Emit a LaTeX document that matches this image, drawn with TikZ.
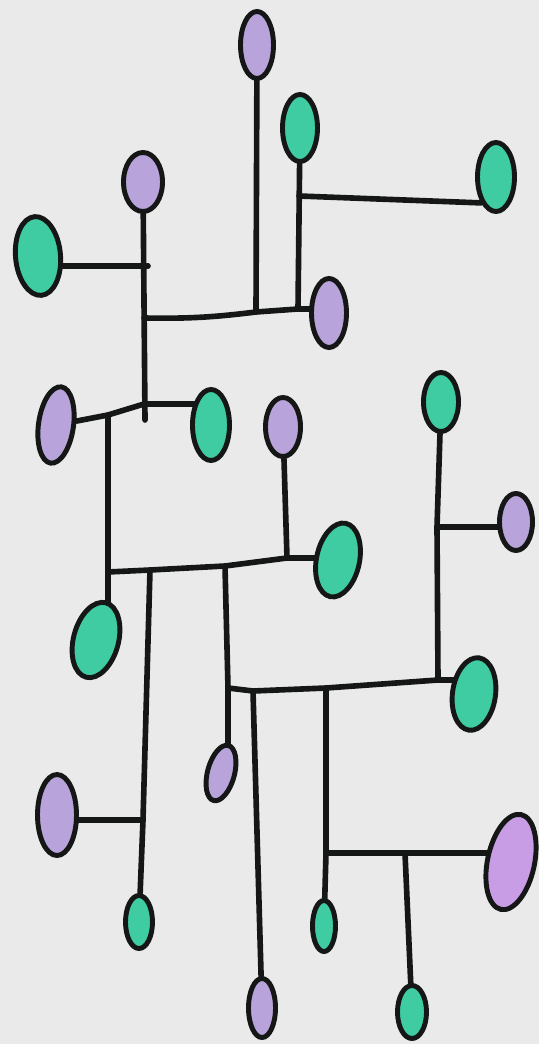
\documentclass[tikz,border=0pt]{standalone}
\usetikzlibrary{shapes.geometric}
\definecolor{paper}{HTML}{EAEAEA}
\definecolor{ink}{HTML}{141715}
\definecolor{mint}{HTML}{3FCCA3}
\definecolor{lilac}{HTML}{B8A4DA}
\definecolor{orchid}{HTML}{C99CE6}
\pgfdeclarelayer{paperlayer}\pgfdeclarelayer{wirelayer}
\pgfsetlayers{paperlayer,wirelayer,main}
\tikzset{wire/.style={draw=ink,line width=4.8pt,line cap=round,line join=round},
  bead/.style={ellipse,draw=ink,line width=4.2pt,inner sep=0pt},
  gbead/.style={bead,fill=mint},
  pbead/.style={bead,fill=lilac},
  egg/.style 2 args={minimum width={(#1-5)*0.03cm},minimum height={(#2-5)*0.03cm}}}

\begin{document}
\begin{tikzpicture}[x=0.03cm,y=-0.03cm]
\begin{pgfonlayer}{paperlayer}\fill[paper](0,0)rectangle(539,1044);\end{pgfonlayer}
\useasboundingbox(0,0)rectangle(539,1044);
% top cluster
\node[pbead,egg={38}{72}](P1)at(257,45){};\node[gbead,egg={40}{72}](G1)at(300,128){};
\node[gbead,egg={42}{74}](G2)at(496,177){};\node[pbead,egg={44}{64}](P2)at(143,182){};
\node[gbead,egg={50}{84},rotate=5](G3)at(38,256){};\node[pbead,egg={40}{74}](P3)at(329,313){};
% middle cluster
\node[pbead,egg={40}{82},rotate=-8](P4)at(56,425){};\node[gbead,egg={42}{76}](G4)at(211,425){};
\node[pbead,egg={40}{64}](P5)at(283,427){};\node[gbead,egg={40}{64}](G8)at(441,402){};
\node[pbead,egg={38}{62}](P6)at(516,522){};\node[gbead,egg={48}{80},rotate=-12](G6)at(338,560){};
\node[gbead,egg={50}{82},rotate=-15](G5)at(96,640){};\node[gbead,egg={48}{78},rotate=-8](G9)at(474,694){};
% bottom cluster
\node[pbead,egg={32}{62},rotate=-15](P7)at(221,773){};\node[pbead,egg={44}{86}](P8)at(57,815){};
\node[pbead,fill=orchid,egg={52}{102},rotate=-12](P9)at(511,862){};\node[gbead,egg={32}{58}](G7)at(139,922){};
\node[gbead,egg={28}{56}](G10)at(324,926){};\node[pbead,egg={32}{64}](P10)at(262,1008){};
\node[gbead,egg={34}{58}](G11)at(412,1012){};
% junctions
\coordinate(j1)at(256,312);\coordinate(j2)at(298,309);\coordinate(a1)at(299,196);
\coordinate(b1)at(144,318);\coordinate(b2)at(144,404);\coordinate(j3)at(145,420);\coordinate(a2)at(148,266);
\coordinate(b3)at(108,415);\coordinate(c1)at(108,572);\coordinate(c2)at(150,570);\coordinate(c3)at(225,566);
\coordinate(c4)at(287,558);\coordinate(c5)at(143,820);\coordinate(d1)at(228,688);\coordinate(d2)at(253,691);
\coordinate(d3)at(326,688);\coordinate(d4)at(438,680);\coordinate(e1)at(437,527);\coordinate(f1)at(326,853);
\coordinate(f2)at(405,853);
\begin{pgfonlayer}{wirelayer}
\draw[wire](P1)--(j1);\draw[wire](G1)--(j2);\draw[wire](a1)--(G2.240);
\draw[wire](P2)--(j3);\draw[wire](a2-|G3)--(a2);
\draw[wire](b1)to[bend right=4](j1)--(j2)--(j2-|P3);
\draw[wire](P4)--(b3)--(b2)--(b2-|G4);\draw[wire](b3)--(c1)--(c1|-G5);
\draw[wire](c1)--(c2)--(c3)--(c4)--(c4-|G6);\draw[wire](P5)--(c4);
\draw[wire](c2)--(c5)--(G7);\draw[wire](c5-|P8)--(c5);
\draw[wire](c3)--(d1)--(d1|-P7);
\draw[wire](d1)--(d2)--(d3)--(d4)--(d4-|G9);
\draw[wire](G8)--(e1)--(d4);\draw[wire](e1)--(e1-|P6);
\draw[wire](d2)--(P10);\draw[wire](d3)--(f1)--(G10);
\draw[wire](f1)--(f2)--(f2-|P9);\draw[wire](f2)--(G11);
\end{pgfonlayer}
\end{tikzpicture}
\end{document}
